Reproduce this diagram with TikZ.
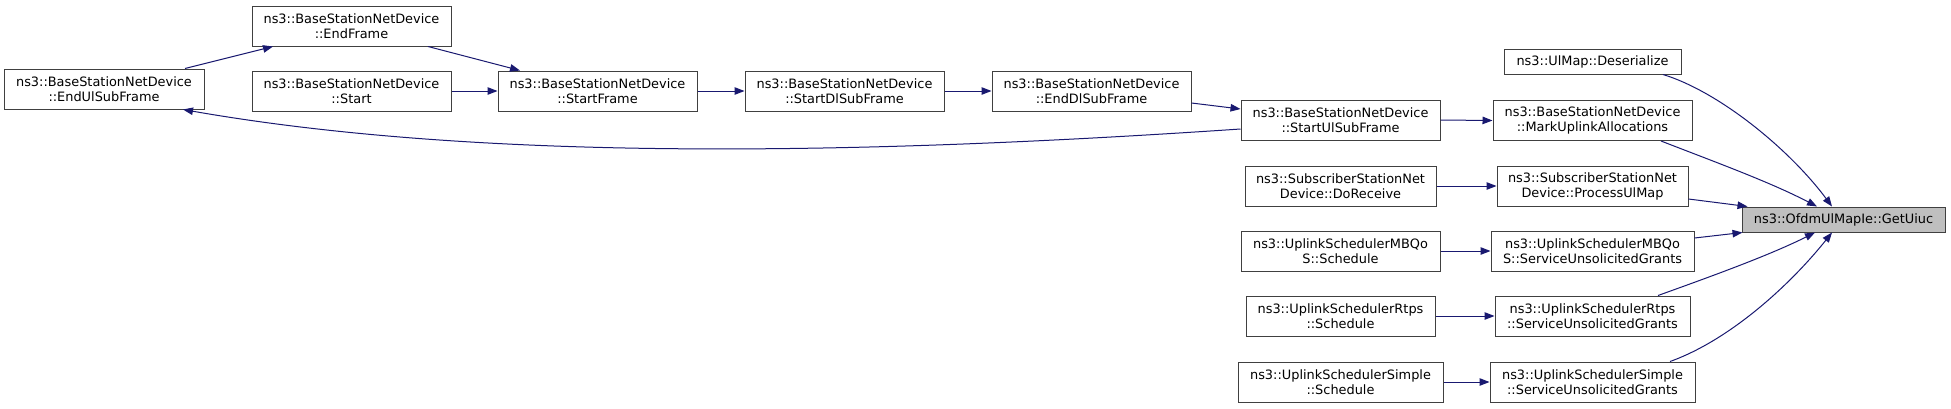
\documentclass[tikz,border=0pt]{standalone}
\usepackage{fontspec}
\setmainfont{DejaVu Sans}
\usetikzlibrary{arrows.meta}
\definecolor{edgecol}{HTML}{191970}
\definecolor{bordercol}{HTML}{404040}
\definecolor{hlfill}{HTML}{BFBFBF}
\begin{document}
\begin{tikzpicture}[x=1pt,y=-1pt,
  box/.style={draw=bordercol, line width=1pt, fill=white, inner sep=0pt, align=center,
              font=\fontsize{12.9}{15}\selectfont, minimum height=40pt},
  boxone/.style={box, minimum height=25pt},
  arr/.style={draw=edgecol, line width=1pt, -{Triangle[length=10pt,width=7.5pt]}}]
\fill[white] (0,0) rectangle (1951,408);
\useasboundingbox (0,0) rectangle (1951,408);

\node[box, minimum width=200pt] (eul) at (104,89) {ns3::BaseStationNetDevice\\::EndUlSubFrame};
\node[box, minimum width=199pt] (ef) at (351.5,26) {ns3::BaseStationNetDevice\\::EndFrame};
\node[box, minimum width=199pt] (st) at (351.5,91) {ns3::BaseStationNetDevice\\::Start};
\node[box, minimum width=199pt] (sf) at (597.5,91) {ns3::BaseStationNetDevice\\::StartFrame};
\node[box, minimum width=199pt] (sdl) at (844.5,91) {ns3::BaseStationNetDevice\\::StartDlSubFrame};
\node[box, minimum width=199pt] (edl) at (1091.5,91) {ns3::BaseStationNetDevice\\::EndDlSubFrame};
\node[box, minimum width=199pt] (sul) at (1340.5,120) {ns3::BaseStationNetDevice\\::StartUlSubFrame};
\node[box, minimum width=191pt] (dor) at (1340.5,186) {ns3::SubscriberStationNet\\Device::DoReceive};
\node[box, minimum width=199pt] (mbs) at (1340.5,251) {ns3::UplinkSchedulerMBQo\\S::Schedule};
\node[box, minimum width=189pt] (rts) at (1340.5,316) {ns3::UplinkSchedulerRtps\\::Schedule};
\node[box, minimum width=205pt] (sis) at (1340.5,382) {ns3::UplinkSchedulerSimple\\::Schedule};

\node[boxone, minimum width=177pt] (des) at (1592.5,61.5) {ns3::UlMap::Deserialize};
\node[box, minimum width=199pt] (mua) at (1592.5,120.5) {ns3::BaseStationNetDevice\\::MarkUplinkAllocations};
\node[box, minimum width=191pt] (pum) at (1592.5,186) {ns3::SubscriberStationNet\\Device::ProcessUlMap};
\node[box, minimum width=203pt] (mbg) at (1592.5,251) {ns3::UplinkSchedulerMBQo\\S::ServiceUnsolicitedGrants};
\node[box, minimum width=195pt] (rtg) at (1592.5,316) {ns3::UplinkSchedulerRtps\\::ServiceUnsolicitedGrants};
\node[box, minimum width=205pt] (sig) at (1592.5,382) {ns3::UplinkSchedulerSimple\\::ServiceUnsolicitedGrants};

\node[boxone, minimum width=203pt, fill=hlfill] (gu) at (1843.5,219.5) {ns3::OfdmUlMapIe::GetUiuc};

% edges
\draw[arr] ([xshift=81pt]eul.north) -- ([xshift=-78.5pt]ef.south);
\draw[arr] ([xshift=76.5pt]ef.south) -- ([xshift=-77.5pt]sf.north);
\draw[arr] (st.east) -- (sf.west);
\draw[arr] (sf.east) -- (sdl.west);
\draw[arr] (sdl.east) -- (edl.west);
\draw[arr] ([yshift=-12pt]edl.east) -- ([yshift=11pt]sul.west);
\draw[arr] ([yshift=-9pt]sul.west) .. controls (900,152) and (500,165) .. ([xshift=79pt]eul.south);
\draw[arr] (sul.east) -- (mua.west);
\draw[arr] (dor.east) -- (pum.west);
\draw[arr] (mbs.east) -- (mbg.west);
\draw[arr] (rts.east) -- (rtg.west);
\draw[arr] (sis.east) -- (sig.west);

\draw[arr] ([xshift=70.5pt]des.south) .. controls (1720,92) and (1790,150) .. ([xshift=-11.5pt]gu.north);
\draw[arr] ([xshift=68.5pt]mua.south) .. controls (1715,162) and (1770,182) .. ([xshift=-26.5pt]gu.north);
\draw[arr] ([yshift=-13pt]pum.east) -- ([xshift=6pt]gu.north west);
\draw[arr] ([yshift=13pt]mbg.east) -- ([xshift=1pt]gu.south west);
\draw[arr] ([xshift=65.5pt]rtg.north) .. controls (1715,275) and (1770,255) .. ([xshift=-28.5pt]gu.south);
\draw[arr] ([xshift=77.5pt]sig.north) .. controls (1730,340) and (1790,285) .. ([xshift=-11.5pt]gu.south);
\end{tikzpicture}
\end{document}
